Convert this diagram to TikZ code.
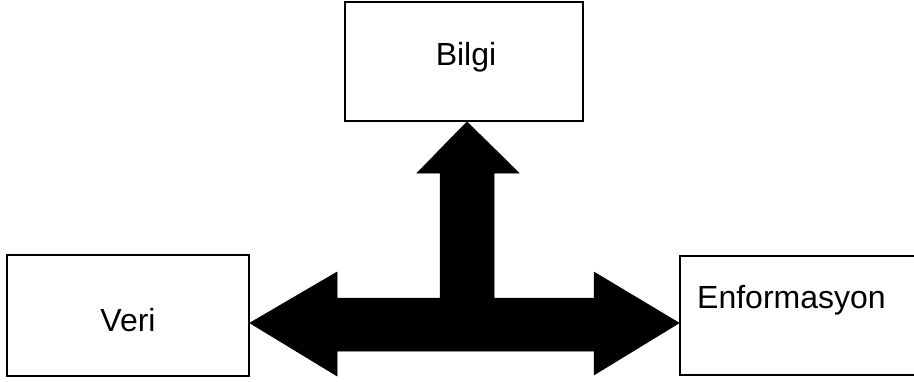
\documentclass[tikz,border=0pt]{standalone}
\usepackage{fontspec}
\setmainfont{Liberation Sans}
\begin{document}
\begin{tikzpicture}[x=1pt,y=-1pt,
  box/.style={draw=black,line width=1.6pt,fill=white,inner sep=0pt},
  lbl/.style={font=\fontsize{32}{38}\selectfont,inner sep=0pt},
  bigarrow/.style={fill=black,draw=black,line width=0.5pt,line join=miter}]
\useasboundingbox (0,0) rectangle (914,381);
\clip (0,0) rectangle (914,381);
\node[box,minimum width=238pt,minimum height=119pt] (bilgi) at (464,61.5) {};
\node[lbl] (bilgit) at (466,57) {Bilgi};
\node[box,minimum width=242pt,minimum height=121pt] (veri) at (128,315.5) {};
\node[lbl] (verit) at (128,320) {Veri};
\node[box,minimum width=260pt,minimum height=119pt] (enf) at (810,315.5) {};
\node[lbl,anchor=west] (enft) at (697,300) {Enformasyon};
\coordinate (up) at (bilgi.south -| 467,0);
\coordinate (lt) at (veri.east |- 0,323);
\coordinate (rt) at (enf.west |- 0,323);
\fill[bigarrow] (up) -- (519,173) -- (494,173) -- (494,298) -- (594,298) -- (594,272)
  -- (rt) -- (594,375) -- (594,351) -- (337,351) -- (337,376) -- (lt)
  -- (337,272) -- (337,298) -- (440,298) -- (440,173) -- (417,173) -- cycle;
\end{tikzpicture}
\end{document}
